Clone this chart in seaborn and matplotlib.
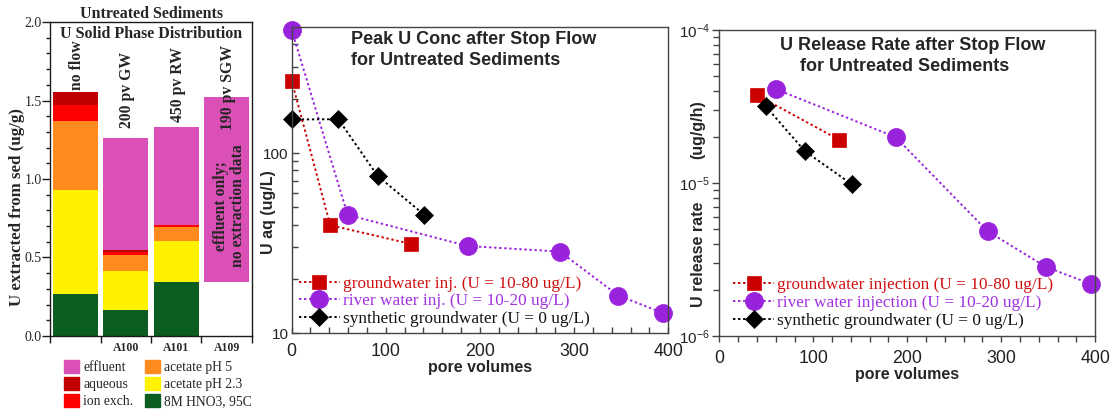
import numpy as np
import pandas as pd
import matplotlib
matplotlib.use("Agg")
import matplotlib.pyplot as plt
import seaborn as sns
from matplotlib.patches import Patch
from matplotlib.ticker import FixedLocator, MultipleLocator, LogLocator, NullFormatter

# ---------------- data ----------------
# left panel: U solid phase distribution (ug/g)
bar_ids = ["nf", "A100", "A101", "A109"]
bar_ticklabels = ["", "A100", "A101", "A109"]
bar_titles = ["no flow", "200 pv GW", "450 pv RW", "190 pv SGW"]
hno3 = np.array([0.268, 0.166, 0.344, 0.0])
acetate23 = np.array([0.663, 0.248, 0.262, 0.0])
acetate5 = np.array([0.440, 0.102, 0.089, 0.0])
ionexch = np.array([0.102, 0.017, 0.013, 0.0])
aqueous = np.array([0.083, 0.015, 0.0, 0.0])
effluent_low = np.array([1.556, 0.548, 0.708, 0.344])
effluent_high = np.array([1.556, 1.262, 1.333, 1.524])

# middle panel: peak U conc (ug/L) vs pore volumes
gw_pv = [0, 41, 127]
gw_conc = [252, 39.8, 31.3]
rw_pv = [0, 59.5, 187, 285, 347, 394]
rw_conc = [482, 45.4, 30.5, 28.4, 16.2, 13.0]
sgw_pv = [0, 49.6, 91.3, 140.5]
sgw_conc = [153.5, 154, 74.7, 45.6]

# right panel: U release rate (ug/g/h) vs pore volumes
gw_rate_pv = [40.4, 127.7]
gw_rate = [3.74e-5, 1.91e-5]
rw_rate_pv = [59.9, 187.6, 285.5, 347.9, 395.4]
rw_rate = [4.11e-5, 1.99e-5, 4.82e-6, 2.81e-6, 2.18e-6]
sgw_rate_pv = [49.3, 91.1, 141.1]
sgw_rate = [3.17e-5, 1.61e-5, 9.77e-6]

# ---------------- style ----------------
sns.set_theme(style="white")
plt.rcParams['font.family'] = ['Liberation Sans', 'DejaVu Sans']
SERIF = ['Liberation Serif', 'DejaVu Serif']

C_EFF = "#DA50B6"
C_AQ = "#C00000"
C_ION = "#FF0000"
C_AC5 = "#FF8A1E"
C_AC23 = "#FFF100"
C_HNO3 = "#0B5E20"
C_RED = "#CC0000"
C_PUR = "#9922DD"
C_BLK = "#000000"

fig = plt.figure(figsize=(11.14, 4.09), dpi=100)
axL = fig.add_axes([0.0449, 0.1785, 0.1813, 0.7677])
axM = fig.add_axes([0.2618, 0.1850, 0.3380, 0.749])
axR = fig.add_axes([0.6457, 0.1792, 0.3375, 0.7475])

# ---------------- left panel ----------------
bottom = np.zeros(len(bar_ids))
for vals, col in [(hno3, C_HNO3), (acetate23, C_AC23), (acetate5, C_AC5),
                  (ionexch, C_ION), (aqueous, C_AQ)]:
    sns.barplot(x=bar_ids, y=vals, bottom=bottom.copy(), color=col, width=0.9,
                saturation=1, errorbar=None, linewidth=0, ax=axL)
    bottom = bottom + vals
sns.barplot(x=bar_ids, y=effluent_high - effluent_low, bottom=effluent_low, color=C_EFF,
            width=0.9, saturation=1, errorbar=None, linewidth=0, ax=axL)

axL.set_xlim(-0.5, 3.5)
axL.set_ylim(0, 2.0)
axL.set_xticks(range(4))
axL.set_xticklabels(bar_ticklabels, fontfamily=SERIF, fontweight='bold', fontsize=8.5)
axL.xaxis.set_minor_locator(FixedLocator([-0.5, 0.5, 1.5, 2.5, 3.5]))
axL.tick_params(axis='x', which='major', length=0, pad=4)
axL.tick_params(axis='x', which='minor', length=5, width=1, direction='out', color='k', bottom=True)
axL.set_yticks([0, 0.5, 1.0, 1.5, 2.0])
axL.set_yticklabels(["0.0", "0.5", "1.0", "1.5", "2.0"], fontfamily=SERIF, fontsize=10)
axL.yaxis.set_minor_locator(MultipleLocator(0.1))
axL.tick_params(axis='y', which='major', length=6, width=1, direction='out', color='k', left=True, pad=0)
axL.tick_params(axis='y', which='minor', length=3, width=1, direction='out', color='k', left=True)
axL.set_xlabel("")
axL.set_ylabel("U extracted from sed (ug/g)", fontfamily=SERIF, fontweight='bold', fontsize=12.2)
axL.yaxis.set_label_coords(-0.126, 0.41)
for s in axL.spines.values():
    s.set_color('k'); s.set_linewidth(1)

label_y = [1.567, 1.325, 1.363, 1.312]
for i, (t, yy) in enumerate(zip(bar_titles, label_y)):
    axL.text(i + 0.03, yy, t, rotation=90, ha='center', va='bottom',
             fontfamily=SERIF, fontweight='bold', fontsize=11.3)
axL.text(3.05, 0.83, "effluent only;\nno extraction data",
         rotation=90, ha='center', va='center', multialignment='center', linespacing=1.1,
         fontfamily=SERIF, fontweight='bold', fontsize=11.3)
fig.text(151 / 1114, 1 - 6 / 409, "Untreated Sediments\nU Solid Phase Distribution",
         ha='center', va='top', fontfamily=SERIF, fontweight='bold', fontsize=11.5, linespacing=1.35)

handles = [Patch(color=C_EFF, label="effluent"), Patch(color=C_AQ, label="aqueous"),
           Patch(color=C_ION, label="ion exch."), Patch(color=C_AC5, label="acetate pH 5"),
           Patch(color=C_AC23, label="acetate pH 2.3"), Patch(color=C_HNO3, label="8M HNO3, 95C")]
fig.legend(handles=handles, ncol=2, loc='upper left', bbox_to_anchor=(64 / 1114, 1 - 360 / 409),
           frameon=False, prop={'family': SERIF, 'size': 9.8}, handlelength=1.1, handleheight=1.1,
           handletextpad=0.3, labelspacing=0.2, columnspacing=0.9, borderaxespad=0, borderpad=0)

# ---------------- line panels ----------------
def draw_series(ax, series):
    for xs, ys, col, mk, ms, lab in series:
        sns.lineplot(x=xs, y=ys, ax=ax, color=col, marker=mk, markersize=ms,
                     markeredgecolor=col, markeredgewidth=0.5, linestyle=(0, (1.2, 1.4)),
                     linewidth=1.4, label=lab, sort=False, estimator=None, clip_on=False)

draw_series(axM, [
    (gw_pv, gw_conc, C_RED, 's', 9.5, "groundwater inj. (U = 10-80 ug/L)"),
    (rw_pv, rw_conc, C_PUR, 'o', 13, "river water inj. (U = 10-20 ug/L)"),
    (sgw_pv, sgw_conc, C_BLK, 'D', 9.5, "synthetic groundwater (U = 0 ug/L)"),
])
draw_series(axR, [
    (gw_rate_pv, gw_rate, C_RED, 's', 9.5, "groundwater injection (U = 10-80 ug/L)"),
    (rw_rate_pv, rw_rate, C_PUR, 'o', 13, "river water injection (U = 10-20 ug/L)"),
    (sgw_rate_pv, sgw_rate, C_BLK, 'D', 9.5, "synthetic groundwater (U = 0 ug/L)"),
])

for ax, ylim, direction, xpad in [(axM, (10, 500), 'in', 7), (axR, (1e-6, 1e-4), 'out', 6)]:
    ax.set_yscale('log')
    ax.set_ylim(*ylim)
    ax.set_xlim(0, 400)
    ax.set_xticks([0, 100, 200, 300, 400])
    ax.xaxis.set_minor_locator(MultipleLocator(20))
    ax.yaxis.set_minor_locator(LogLocator(base=10, subs=np.arange(2, 10)))
    ax.yaxis.set_minor_formatter(NullFormatter())
    ax.tick_params(axis='x', which='major', direction=direction, length=4, width=1,
                   color='#444444', labelsize=12.8, labelcolor='#222222', bottom=True, pad=xpad)
    ax.tick_params(axis='x', which='minor', direction=direction, length=4, width=1,
                   color='#444444', bottom=True)
    ax.tick_params(axis='y', which='major', direction=direction, length=5, width=1,
                   color='#444444', labelsize=11, labelcolor='#222222', left=True, pad=2)
    ax.tick_params(axis='y', which='minor', direction=direction, length=4, width=1,
                   color='#444444', left=True)
    for s in ax.spines.values():
        s.set_color('#444444'); s.set_linewidth(1)
    ax.set_xlabel("pore volumes", fontweight='bold', fontsize=11.5, labelpad=0)

axM.set_yticks([10, 100])
axM.set_yticklabels(["10", "100"])
axM.set_ylabel("U aq (ug/L)", fontweight='bold', fontsize=11.5)
axM.yaxis.set_label_coords(-0.041, 0.396)
axM.text(0.157, 0.987, "Peak U Conc after Stop Flow\nfor Untreated Sediments", transform=axM.transAxes,
         ha='left', va='top', fontweight='bold', fontsize=13, linespacing=1.3)

axR.set_ylabel("U release rate", fontweight='bold', fontsize=11.5)
axR.yaxis.set_label_coords(-0.035, 0.267)
axR.text(-0.0567, 0.673, "(ug/g/h)", transform=axR.transAxes, rotation=90, ha='center', va='center',
         fontweight='bold', fontsize=11.5)
axR.text(0.161, 0.977, "U Release Rate after Stop Flow\n    for Untreated Sediments", transform=axR.transAxes,
         ha='left', va='top', fontweight='bold', fontsize=13, linespacing=1.3)

for ax, anchor in [(axM, (0.019, 0.02)), (axR, (0.036, 0.022))]:
    leg = ax.legend(loc='lower left', bbox_to_anchor=anchor, frameon=False,
                    prop={'family': SERIF, 'size': 12.4}, handlelength=2.4, handletextpad=0.15,
                    labelspacing=0.1, borderaxespad=0, borderpad=0)
    for txt, col in zip(leg.get_texts(), ["#D01010", "#A030E0", "#111111"]):
        txt.set_color(col)

fig.savefig("out.png", dpi=100)
